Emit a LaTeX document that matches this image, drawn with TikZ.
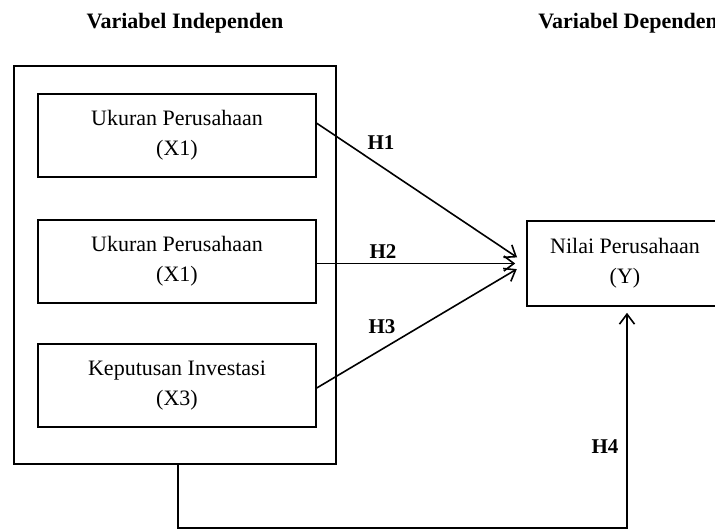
\documentclass[tikz,border=0pt]{standalone}
\usepackage{fontspec}
\setmainfont{Liberation Serif}
\usetikzlibrary{arrows.meta}
\newcommand{\judul}[1]{\fontsize{11}{13}\selectfont\bfseries #1}
\newcommand{\teksbox}{\fontsize{11}{15}\selectfont}

\begin{document}
\begin{tikzpicture}[x=0.5pt,y=-0.5pt,line width=0.8pt,
    kotak/.style={draw,minimum width=139pt,minimum height=41.5pt,align=center,font=\teksbox},
    panah/.style={-{Straight Barb[length=5pt,width=7.5pt]}},
    hlabel/.style={font=\fontsize{10.5}{12}\selectfont\bfseries}]
    \path[use as bounding box,clip] (0,0) rectangle (715,530);
    % judul
    \node (jdl1) at (185,23) {\judul{Variabel Independen}};
    \node (jdl2) at (628,23) {\judul{Variabel Dependen}};
    % variabel independen
    \node[draw,minimum width=161pt,minimum height=199pt] (indep) at (175,265) {};
    \node[kotak] (x1) at (177,135.5) {Ukuran Perusahaan\\(X1)};
    \node[kotak] (x2) at (177,261.5) {Ukuran Perusahaan\\(X1)};
    \node[kotak] (x3) at (177,385.5) {Keputusan Investasi\\(X3)};
    % variabel dependen
    \node[kotak,minimum width=98pt,minimum height=42.5pt] (nilai) at (625,263.5) {Nilai Perusahaan\\(Y)};
    % hipotesis
    \draw[panah,shorten >=5.5pt] (x1.5) -- (nilai.west);
    \draw[panah,shorten >=5.5pt] (x2.east |- nilai.west) -- (nilai.west);
    \draw[panah,shorten >=5.5pt] (x3.-1) -- (nilai.west);
    \coordinate (bawah) at (0,528);
    \draw[panah,shorten >=3pt] ([xshift=1.5pt]indep.south) -- ([xshift=1.5pt]indep.south |- bawah) -| ([xshift=1pt]nilai.south);
    \node[hlabel] (h1) at (381,143) {H1};
    \node[hlabel] (h2) at (383,252) {H2};
    \node[hlabel] (h3) at (382,327) {H3};
    \node[hlabel] (h4) at (605,447) {H4};
\end{tikzpicture}
\end{document}
